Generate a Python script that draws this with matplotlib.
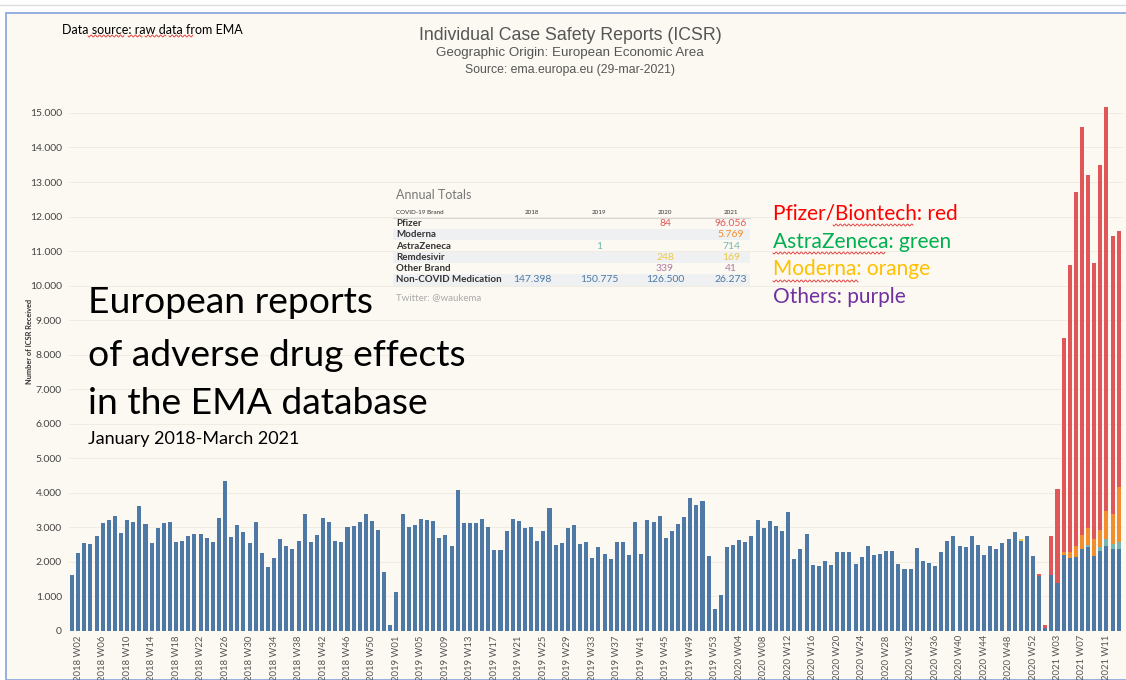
import matplotlib
matplotlib.use("Agg")
import matplotlib.pyplot as plt
from matplotlib.patches import Rectangle
from matplotlib.lines import Line2D
import numpy as np

# --- DATA: weekly ICSR counts (EEA) ---
YEAR_WEEKS = {2018: 53, 2019: 53, 2020: 53, 2021: 13}

NONCOVID_2018 = [1620, 2260, 2560, 2510, 2740, 3130, 3220, 3320, 2840, 3220,
                 3150, 3620, 3110, 2560, 2970, 3140, 3150, 2580, 2620, 2740,
                 2810, 2810, 2680, 2580, 3260, 4340, 2720, 3060, 2860, 2550,
                 3170, 2260, 1840, 2110, 2650, 2470, 2380, 2610, 3390, 2570,
                 2770, 3260, 3160, 2600, 2580, 3000, 3040, 3160, 3400, 3180,
                 2930, 1700, 170]
NONCOVID_2019 = [1130, 3380, 3000, 3070, 3250, 3210, 3180, 2700, 2790, 2450,
                 4070, 3140, 3130, 3130, 3230, 3000, 2340, 2340, 2890, 3250,
                 3180, 2970, 3010, 2620, 2910, 3560, 2490, 2550, 2980, 3070,
                 2520, 2570, 2120, 2420, 2240, 2080, 2570, 2570, 2200, 3160,
                 2230, 3220, 3160, 3320, 2680, 2890, 3090, 3310, 3860, 3660,
                 3770, 2160, 650]
NONCOVID_2020 = [1050, 2440, 2490, 2630, 2580, 2750, 3220, 2970, 3180, 3040,
                 2900, 3440, 2080, 2380, 2800, 1910, 1880, 2040, 1900, 2280,
                 2280, 2280, 1950, 2150, 2450, 2210, 2240, 2310, 2330, 1930,
                 1790, 1790, 2400, 2040, 1970, 1870, 2300, 2620, 2740, 2450,
                 2420, 2760, 2500, 2210, 2450, 2360, 2550, 2670, 2880, 2620,
                 2760, 2180, 1580]
NONCOVID_2021 = [100, 1620, 1400, 2200, 2100, 2150, 2380, 2420, 2160, 2330,
                 2470, 2380, 2380]

# 2021 vaccine series (weeks W01..W13)
ASTRAZENECA_2021 = [0, 0, 0, 0, 0, 0, 0, 60, 0, 100, 200, 140, 210]
MODERNA_2021 = [0, 0, 0, 100, 180, 300, 390, 510, 490, 500, 800, 880, 1590]
PFIZER_2021 = [70, 1130, 2700, 6180, 8320, 10250, 11830, 10210, 8000, 10570,
               11700, 8050, 7400]
PFIZER_2020_W53 = 80
REMDESIVIR_2020_W50 = 50

# annual totals table
TABLE_YEARS = ["2018", "2019", "2020", "2021"]
TABLE_ROWS = ["Pfizer", "Moderna", "AstraZeneca", "Remdesivir", "Other Brand",
              "Non-COVID Medication"]
TABLE_VALUES = [["", "", "84", "96.056"],
                ["", "", "", "5.769"],
                ["", "1", "", "714"],
                ["", "", "248", "169"],
                ["", "", "339", "41"],
                ["147.398", "150.775", "126.500", "26.273"]]

# --- STYLE ---
W, H = 1126, 680
CREAM = "#FCF9F2"
C_BLUE, C_RED, C_ORANGE, C_TEAL = "#4E79A7", "#E15759", "#F28E2B", "#76B7B2"
C_YELLOW, C_PURPLE = "#EDC948", "#B07AA1"
ROW_COLORS = [C_RED, C_ORANGE, C_TEAL, C_YELLOW, C_PURPLE, C_BLUE]
SANS = ["Lato", "DejaVu Sans"]
NARROW = ["Liberation Sans Narrow", "Liberation Sans", "DejaVu Sans"]


def fx(x):
    return x / W


def fy(y):
    return 1 - y / H


def squiggle(fig, x0, x1, y):
    """Red spell-check wave under a word (pixel coords)."""
    xs = np.linspace(x0, x1, int((x1 - x0) * 2) + 2)
    ys = y + 1.0 * np.sin((xs - x0) / 3.0 * 2 * np.pi / 1.4)
    fig.add_artist(Line2D(xs / W, 1 - ys / H, transform=fig.transFigure,
                          color="#E03030", lw=0.6))


def main():
    labels = [f"{yr} W{w:02d}" for yr, n in YEAR_WEEKS.items()
              for w in range(1, n + 1)]
    n = len(labels)
    x = np.arange(n)
    pad = n - len(NONCOVID_2021)

    noncovid = np.array(NONCOVID_2018 + NONCOVID_2019 + NONCOVID_2020 + NONCOVID_2021)
    az = np.zeros(n); az[pad:] = ASTRAZENECA_2021
    mod = np.zeros(n); mod[pad:] = MODERNA_2021
    pfz = np.zeros(n); pfz[pad:] = PFIZER_2021
    pfz[pad - 1] = PFIZER_2020_W53
    rem = np.zeros(n); rem[53 + 53 + 49] = REMDESIVIR_2020_W50

    fig = plt.figure(figsize=(W / 100, H / 100), dpi=100, facecolor="white")
    fig.add_artist(Rectangle((fx(6), 0), 1, fy(13), transform=fig.transFigure,
                             facecolor=CREAM, edgecolor="#8EA9DB", lw=1.3,
                             zorder=0))
    fig.add_artist(Line2D([0, 1], [fy(5), fy(5)], transform=fig.transFigure,
                          color="#DCDCDC", lw=1))

    ax = fig.add_axes([fx(69), 49 / H, (1123 - 69) / W, 536 / H])
    ax.set_facecolor("none")
    bw = 0.66
    bottom = np.zeros(n)
    for vals, col in [(noncovid, C_BLUE), (az, C_TEAL), (mod, C_ORANGE),
                      (rem, C_YELLOW), (pfz, C_RED)]:
        ax.bar(x, vals, bw, bottom=bottom, color=col, lw=0, zorder=3)
        bottom = bottom + vals

    ax.set_xlim(-0.5, 171.7)
    ax.set_ylim(0, 15520)
    ticks = np.arange(0, 15001, 1000)
    ax.set_yticks(ticks)
    ax.set_yticklabels([f"{t:,}".replace(",", ".") for t in ticks],
                       fontsize=7.5, color="#444444", family=SANS)
    ax.set_xticks(x[1::4])
    ax.set_xticklabels(labels[1::4], rotation=90, fontsize=6.8,
                       color="#555555", family=SANS)
    ax.tick_params(length=0, pad=5)
    ax.tick_params(axis="x", pad=3)
    ax.grid(axis="y", color="#EEEAE0", lw=0.6, zorder=0)
    for s in ax.spines.values():
        s.set_visible(False)
    fig.text(fx(30), fy(341), "Number of ICSR Received", rotation=90,
             fontsize=5.3, color="#333333", family=SANS, fontweight="bold",
             ha="center", va="center")

    # header texts
    fig.text(fx(62), fy(30), "Data source: raw data from EMA", fontsize=9,
             family=SANS, va="center", ha="left", color="black")
    for a, b in [(88, 124), (128, 142), (145, 166), (169, 193)]:
        squiggle(fig, a, b, 36)
    fig.text(fx(570), fy(35), "Individual Case Safety Reports (ICSR)",
             fontsize=12.8, family=NARROW, ha="center", va="center",
             color="#555555")
    fig.text(fx(570), fy(53), "Geographic Origin: European Economic Area",
             fontsize=9.6, family=NARROW, ha="center", va="center",
             color="#555555")
    fig.text(fx(570), fy(70), "Source: ema.europa.eu (29-mar-2021)",
             fontsize=8.8, family=NARROW, ha="center", va="center",
             color="#555555")

    # big annotation
    for txt, yb in [("European reports", 313), ("of adverse drug effects", 366),
                    ("in the EMA database", 414)]:
        fig.text(fx(88), fy(yb), txt, fontsize=26.8, family=SANS,
                 va="baseline", ha="left", color="black")
    fig.text(fx(88), fy(444), "January 2018-March 2021", fontsize=13,
             family=SANS, va="baseline", ha="left", color="black")

    # annual totals table
    fig.text(fx(396), fy(195), "Annual Totals", fontsize=9, family=SANS,
             va="center", color="#777777")
    fig.text(fx(396), fy(213), "COVID-19 Brand", fontsize=4.5, family=SANS,
             va="center", color="#333333")
    col_x = [532, 599, 665, 731]
    for cx, yr in zip(col_x, TABLE_YEARS):
        fig.text(fx(cx), fy(213), yr, fontsize=4.5, family=SANS, ha="center",
                 va="center", color="#333333")
    fig.add_artist(Line2D([fx(393), fx(750)], [fy(218), fy(218)],
                          transform=fig.transFigure, color="#D8D8D8", lw=0.8))
    row_y = [223.5, 234.5, 246, 257.5, 268.5, 280]
    for i, (name, ry) in enumerate(zip(TABLE_ROWS, row_y)):
        if i % 2 == 1:
            fig.add_artist(Rectangle((fx(393), fy(ry + 5.5)), fx(750) - fx(393),
                                     11.2 / H, transform=fig.transFigure,
                                     facecolor="#EEF0F1", lw=0, zorder=1))
        fig.text(fx(396), fy(ry), name, fontsize=7, family=SANS,
                 va="center", color="#333333", fontweight="bold")
        for cx, val in zip(col_x, TABLE_VALUES[i]):
            if val:
                fig.text(fx(cx), fy(ry), val, fontsize=7.5, family=SANS,
                         ha="center", va="center", color=ROW_COLORS[i])
    fig.text(fx(396), fy(298), "Twitter: @waukema", fontsize=7, family=SANS,
             va="center", color="#AAAAAA")

    # colour key
    for txt, col, yy in [("Pfizer/Biontech: red", "#FF0000", 214),
                         ("AstraZeneca: green", "#00B050", 242),
                         ("Moderna: orange", "#FFC000", 269),
                         ("Others: purple", "#7030A0", 297)]:
        fig.text(fx(773), fy(yy), txt, fontsize=15, family=SANS, va="center",
                 ha="left", color=col)
    squiggle(fig, 833, 913, 225)
    squiggle(fig, 773, 885, 253)
    squiggle(fig, 773, 858, 281)

    fig.savefig("out.png", dpi=100, facecolor="white")


if __name__ == "__main__":
    main()
